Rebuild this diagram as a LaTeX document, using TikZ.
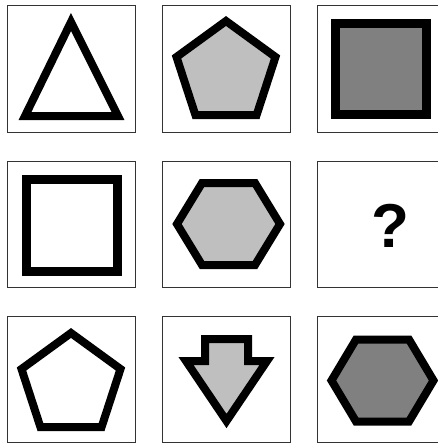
\documentclass[tikz,border=0pt]{standalone}
\usepackage{fontspec}
\setmainfont{Liberation Sans}

\begin{document}
\begin{tikzpicture}[x=1pt, y=-1pt,
      cell/.style={draw=black!80, line width=1pt, minimum width=128pt,
        minimum height=126pt, inner sep=0pt},
      fig/.style={draw=black, line width=8pt, line join=miter},
      light/.style={fill=black!25},
      dark/.style={fill=black!50},
      qmark/.style={font=\fontsize{62}{62}\selectfont\bfseries, inner sep=0pt}]
    \useasboundingbox (0,0) rectangle (438,444);
    \clip (0,0) rectangle (438,444);
    % grid of cells
    \foreach \r/\yy in {1/69, 2/224, 3/379}
      \foreach \c/\xx in {1/71, 2/226, 3/381}
        \node[cell] (c\r\c) at (\xx,\yy) {};
    % first row
    \draw[fig, shift={(c11.center)}]
      (0,-47) -- (-46,47) -- (47,47) -- cycle;
    \draw[fig, light, shift={(c12.center)}]
      (0,-48) -- (49.5,-12) -- (30.6,46) -- (-30.6,46) -- (-49.5,-12) -- cycle;
    \draw[fig, dark, line width=9pt, shift={(c13.center)}]
      (-45.5,-45.5) rectangle (45.5,45.5);
    % second row
    \draw[fig, line width=9pt, shift={(c21.center)}]
      (-44.5,-45) rectangle (46.5,47);
    \draw[fig, light, shift={(c22.center)}]
      (-49,0) -- (-24,-41) -- (29,-41) -- (54,0) -- (29,41) -- (-24,41) -- cycle;
    \node[qmark] (q) at (390,226) {?};
    % third row
    \draw[fig, shift={(c31.center)}]
      (0,-46) -- (49.5,-10) -- (30.6,48) -- (-30.6,48) -- (-49.5,-10) -- cycle;
    \draw[fig, light, shift={(c32.center)}]
      (-21,-40) -- (22,-40) -- (22,-18) -- (41,-18) -- (0.5,42)
      -- (-40,-18) -- (-21,-18) -- cycle;
    \draw[fig, dark, shift={(c33.center)}]
      (-49.5,1.5) -- (-25,-39.5) -- (28,-39.5) -- (52.5,1.5) -- (28,42.5)
      -- (-25,42.5) -- cycle;
  \end{tikzpicture}
\end{document}
